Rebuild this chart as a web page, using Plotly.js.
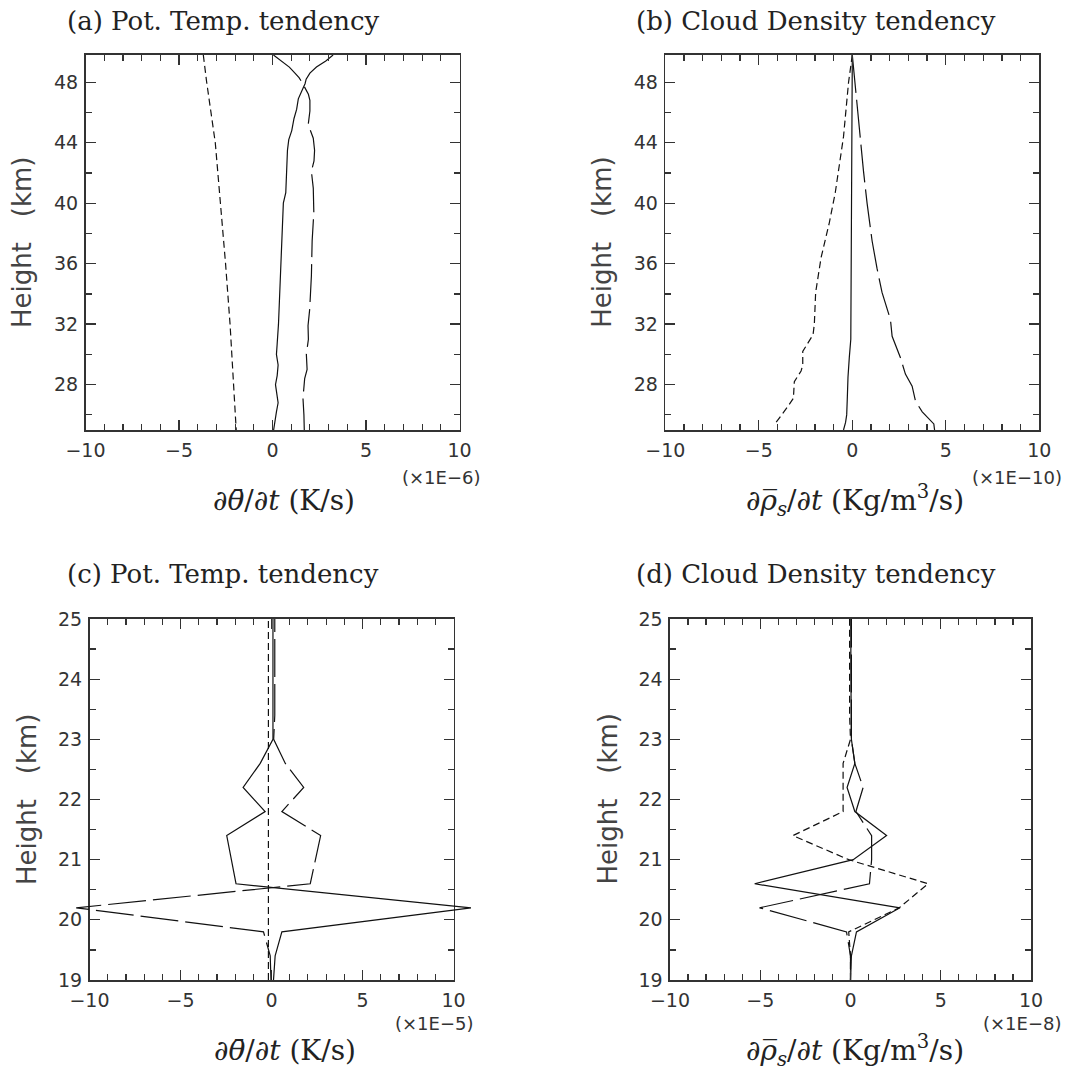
<!DOCTYPE html>
<html><head><meta charset="utf-8">
<script src="https://cdn.plot.ly/plotly-3.0.1.min.js"></script>
<style>body{margin:0;background:#fff}</style>
</head><body>
<div id="chart" style="width:1066px;height:1070px"></div>
<script>
// ---------- DATA ----------
// Panel (a): potential temperature tendency, 25-49.8 km (x 1E-6 K/s)
const a_solid_h = [49.8, 49.4, 49.0, 48.6, 48.2, 47.9, 47.4, 46.9, 46.2, 45.6, 44.8, 44.2, 43.5, 42.0, 40.7, 40.0, 38.0, 36.0, 34.0, 32.0, 30.7, 30.0, 29.3, 28.6, 28.0, 27.5, 26.8, 26.2, 25.6, 25.0];
const a_solid_v = [3.24, 2.85, 2.35, 2.0, 1.8, 1.74, 1.56, 1.38, 1.29, 1.15, 1.03, 0.87, 0.80, 0.76, 0.71, 0.58, 0.52, 0.47, 0.40, 0.32, 0.25, 0.21, 0.30, 0.25, 0.16, 0.22, 0.30, 0.21, 0.12, 0.06];
const a_long_h = [49.8, 49.4, 49.0, 48.6, 48.3, 47.9, 47.6, 47.2, 46.8, 46.1, 45.2, 44.3, 43.5, 42.8, 42.1, 41.0, 39.4, 37.5, 35.2, 33.0, 31.9, 31.0, 30.0, 29.0, 28.4, 27.1, 26.0, 25.0];
const a_long_v = [0.05, 0.5, 0.9, 1.2, 1.42, 1.62, 1.75, 1.92, 2.0, 2.0, 1.91, 2.18, 2.25, 2.22, 2.08, 2.18, 2.21, 2.12, 2.08, 1.99, 1.90, 1.92, 1.81, 1.85, 1.72, 1.63, 1.68, 1.70];
const a_short_h = [49.8, 48, 44, 40, 36, 32, 28, 25];
const a_short_v = [-3.70, -3.52, -3.06, -2.78, -2.51, -2.27, -2.08, -1.94];

// Panel (b): cloud density tendency, 25-49.8 km (x 1E-10 kg/m3/s)
const b_solid_h = [49.8, 45, 40, 35, 31, 29.8, 28.5, 27, 26, 25.5, 25];
const b_solid_v = [0.0, -0.02, -0.04, -0.06, -0.08, -0.16, -0.23, -0.27, -0.30, -0.36, -0.47];
const b_short_h = [49.8, 48, 44.4, 40.7, 38.7, 36.4, 34.1, 32.0, 31.3, 30.2, 29.3, 28.9, 28.2, 27.1, 26.6, 25.6, 25.3];
const b_short_v = [0.0, -0.2, -0.47, -0.91, -1.23, -1.67, -1.96, -2.03, -2.1, -2.65, -2.65, -2.74, -3.1, -3.15, -3.42, -4.04, -4.2];
const b_long_h = [49.8, 47.1, 44.6, 42.1, 40.0, 37.5, 35.7, 34.1, 32.3, 31.2, 29.8, 28.7, 27.9, 26.9, 26.2, 25.4, 25.0];
const b_long_v = [0.0, 0.2, 0.42, 0.6, 0.79, 1.06, 1.32, 1.59, 2.04, 2.13, 2.57, 2.84, 3.2, 3.38, 3.74, 4.36, 4.4];

// Panels (c), (d): 19-25 km
const low_h = [19.0, 19.4, 19.8, 20.2, 20.6, 21.0, 21.4, 21.8, 22.2, 22.6, 23.0, 23.4, 23.8, 24.2, 24.6, 25.0];
// (c) x 1E-5 K/s
const c_solid = [0.11, 0.2, 0.57, 10.96, -1.95, -2.2, -2.46, -0.35, -1.56, -0.62, 0.08, 0.08, 0.08, 0.08, 0.08, 0.08];
const c_long  = [-0.03, -0.07, -0.44, -10.73, 2.13, 2.42, 2.7, 0.57, 1.77, 0.76, 0.12, 0.18, 0.18, 0.18, 0.18, 0.18];
const c_short = [-0.17, -0.17, -0.17, -0.17, -0.17, -0.17, -0.17, -0.17, -0.17, -0.17, -0.17, -0.17, -0.17, -0.17, -0.17, -0.17];
// (d) x 1E-8 kg/m3/s
const d_solid = [0.0, 0.05, 0.33, 2.74, -5.31, 0.15, 2.0, 0.24, -0.19, 0.24, 0.05, 0.03, 0.03, 0.02, 0.02, 0.02];
const d_short = [0.0, 0.0, -0.1, 2.7, 4.3, -0.1, -3.19, -0.41, -0.41, -0.41, 0.0, -0.05, -0.05, -0.05, -0.05, -0.05];
const d_long  = [0.0, 0.0, -0.22, -5.04, 1.05, 1.17, 1.17, 0.3, 0.7, 0.24, 0.05, 0.05, 0.05, 0.05, 0.05, 0.05];

const panelTitles = ['(a) Pot. Temp. tendency', '(b) Cloud Density tendency', '(c) Pot. Temp. tendency', '(d) Cloud Density tendency'];
const xTitles = ['∂<i>θ̄</i>/∂<i>t</i> (K/s)', '∂<i>ρ̅<sub>s</sub></i>/∂<i>t</i> (Kg/m<sup>3</sup>/s)', '∂<i>θ̄</i>/∂<i>t</i> (K/s)', '∂<i>ρ̅<sub>s</sub></i>/∂<i>t</i> (Kg/m<sup>3</sup>/s)'];
const scaleLabels = ['(×1E−6)', '(×1E−10)', '(×1E−5)', '(×1E−8)'];
const yTitle = 'Height\u00a0\u00a0\u00a0(km)';

// ---------- LAYOUT ----------
const W = 1066, H = 1070;
const F = {
  a: {L: 85.5, R: 459.5, T: 55, B: 430},
  b: {L: 665.3, R: 1039.3, T: 55, B: 430},
  c: {L: 89.5, R: 453.5, T: 619, B: 980},
  d: {L: 670, R: 1031, T: 619, B: 980}
};
const INK = '#333';
const tickFont = {family: 'DejaVu Sans', size: 19, color: INK};

function xax(f, anchor) {
  return {
    domain: [f.L / W, f.R / W], anchor: anchor, range: [-10, 10],
    tick0: 0, dtick: 5, ticks: 'inside', ticklen: 10, tickwidth: 1.3, tickcolor: INK,
    minor: {dtick: 1, ticks: 'inside', ticklen: 6, tickwidth: 1.2, tickcolor: INK, showgrid: false},
    showline: true, linecolor: INK, linewidth: 1.6, mirror: 'ticks',
    showgrid: false, zeroline: false, tickfont: tickFont, ticklabelstandoff: 3, fixedrange: true
  };
}
function yax(f, anchor, range, dtick, mdtick) {
  return {
    domain: [1 - f.B / H, 1 - f.T / H], anchor: anchor, range: range,
    tick0: 0, dtick: dtick, ticks: 'inside', ticklen: 10, tickwidth: 1.3, tickcolor: INK,
    minor: {dtick: mdtick, ticks: 'inside', ticklen: 6, tickwidth: 1.2, tickcolor: INK, showgrid: false},
    showline: true, linecolor: INK, linewidth: 1.6, mirror: 'ticks',
    showgrid: false, zeroline: false, tickfont: tickFont, ticklabelstandoff: 2, fixedrange: true
  };
}

// wider hidden axis for panel (c) so lines may run past the frame
const ext = 28;
const sc = (F.c.R - F.c.L) / 20;
const x5 = {
  domain: [(F.c.L - ext) / W, (F.c.R + ext) / W], anchor: 'y5',
  range: [-10 - ext / sc, 10 + ext / sc], visible: false, fixedrange: true
};
const y5 = {domain: [1 - F.c.B / H, 1 - F.c.T / H], anchor: 'x5', range: [19, 25], visible: false, fixedrange: true};

const LW = 1.2, LC = '#111';
const SHORT = '7px,4px', LONG = '38px,7px';
function tr(x, y, dash, xa, ya) {
  return {x: x, y: y, type: 'scatter', mode: 'lines', xaxis: xa, yaxis: ya,
          line: {color: LC, width: LW, dash: dash}, hoverinfo: 'skip', showlegend: false};
}

const data = [
  tr(a_short_v, a_short_h, SHORT, 'x', 'y'),
  tr(a_long_v, a_long_h, LONG, 'x', 'y'),
  tr(a_solid_v, a_solid_h, 'solid', 'x', 'y'),
  tr(b_short_v, b_short_h, SHORT, 'x2', 'y2'),
  tr(b_long_v, b_long_h, LONG, 'x2', 'y2'),
  tr(b_solid_v, b_solid_h, 'solid', 'x2', 'y2'),
  tr(c_short, low_h, SHORT, 'x3', 'y3'),
  tr(c_long, low_h, LONG, 'x5', 'y5'),
  tr(c_solid, low_h, 'solid', 'x5', 'y5'),
  tr(d_short, low_h, SHORT, 'x4', 'y4'),
  tr(d_long, low_h, LONG, 'x4', 'y4'),
  tr(d_solid, low_h, 'solid', 'x4', 'y4')
];

const ann = [];
const keys = ['a', 'b', 'c', 'd'];
const titleX = [65, 634, 65, 634];
const titleY = [21, 21, 574, 574];
const xtX = [284, 855, 285, 855];
const xtY = [500, 500, 1050, 1050];
const slX = [483, 1064, 476, 1064];
const slY = [477, 477, 1023, 1023];
keys.forEach((k, i) => {
  const f = F[k];
  ann.push({text: panelTitles[i], xref: 'paper', yref: 'paper', x: titleX[i] / W, y: 1 - titleY[i] / H,
            xanchor: 'left', yanchor: 'middle', showarrow: false,
            font: {family: 'DejaVu Serif', size: 26, color: '#222'}});
  ann.push({text: xTitles[i], xref: 'paper', yref: 'paper', x: xtX[i] / W, y: 1 - xtY[i] / H,
            xanchor: 'center', yanchor: 'middle', showarrow: false,
            font: {family: 'DejaVu Serif', size: 28, color: '#222'}});
  ann.push({text: scaleLabels[i], xref: 'paper', yref: 'paper', x: slX[i] / W, y: 1 - slY[i] / H,
            xanchor: 'right', yanchor: 'middle', showarrow: false,
            font: {family: 'DejaVu Sans', size: 18, color: INK}});
  ann.push({text: yTitle, xref: 'paper', yref: 'paper', x: (f.L - 63) / W, y: 1 - (f.T + f.B) / 2 / H,
            xanchor: 'center', yanchor: 'middle', textangle: -90, showarrow: false,
            font: {family: 'DejaVu Sans', size: 26, color: '#444'}});
});

const layout = {
  width: W, height: H, margin: {l: 0, r: 0, t: 0, b: 0},
  paper_bgcolor: '#fff', plot_bgcolor: 'rgba(0,0,0,0)', showlegend: false,
  xaxis: xax(F.a, 'y'), yaxis: yax(F.a, 'x', [25, 49.8], 4, 2),
  xaxis2: xax(F.b, 'y2'), yaxis2: yax(F.b, 'x2', [25, 49.8], 4, 2),
  xaxis3: xax(F.c, 'y3'), yaxis3: yax(F.c, 'x3', [19, 25], 1, 0.5),
  xaxis4: xax(F.d, 'y4'), yaxis4: yax(F.d, 'x4', [19, 25], 1, 0.5),
  xaxis5: x5, yaxis5: y5,
  annotations: ann
};

Plotly.newPlot('chart', data, layout, {displayModeBar: false, staticPlot: true});
</script>
</body></html>
